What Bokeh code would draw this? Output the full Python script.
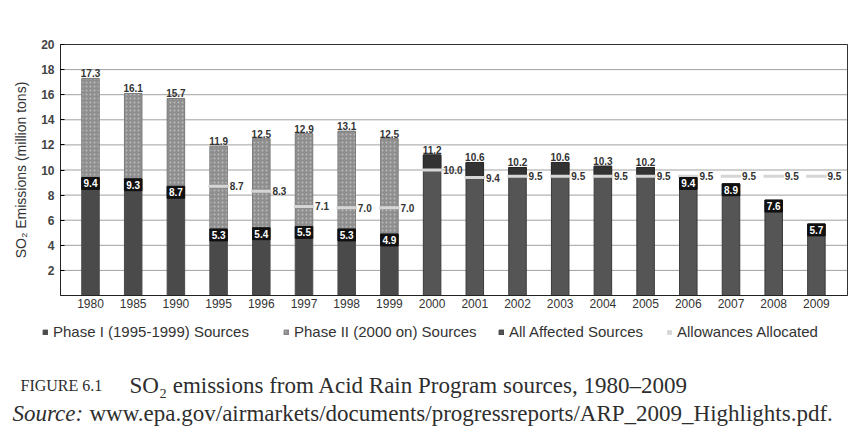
from bokeh.plotting import figure
from bokeh.models import (ColumnDataSource, Legend, LegendItem, Label, FixedTicker,
                          Range1d, LinearAxis)
from bokeh.core.properties import value
from bokeh.transform import dodge
from bokeh.embed import file_html
from bokeh.resources import INLINE

# ---------------- data ----------------
years = ["1980", "1985", "1990", "1995", "1996", "1997", "1998", "1999", "2000",
         "2001", "2002", "2003", "2004", "2005", "2006", "2007", "2008", "2009"]
totals = [17.3, 16.1, 15.7, 11.9, 12.5, 12.9, 13.1, 12.5, 11.2,
          10.6, 10.2, 10.6, 10.3, 10.2, 9.4, 8.9, 7.6, 5.7]
phase1_years = ["1980", "1985", "1990", "1995", "1996", "1997", "1998", "1999"]
phase1 = [9.4, 9.3, 8.7, 5.3, 5.4, 5.5, 5.3, 4.9]
allow_years = ["1995", "1996", "1997", "1998", "1999", "2000", "2001", "2002",
               "2003", "2004", "2005", "2006", "2007", "2008", "2009"]
allowances = [8.7, 8.3, 7.1, 7.0, 7.0, 10.0, 9.4, 9.5, 9.5, 9.5, 9.5, 9.5, 9.5, 9.5, 9.5]
y_ticks = [2, 4, 6, 8, 10, 12, 14, 16, 18, 20]
legend_labels = ["Phase I (1995-1999) Sources", "Phase II (2000 on) Sources",
                 "All Affected Sources", "Allowances Allocated"]

FONT = "Liberation Sans"
SERIF = "Liberation Serif"

# ---------------- layout geometry (pixels of the 864x438 page) ----------------
CW, CH = 864, 438
FR_L, FR_R, FR_T, FR_B = 60, 847, 44, 295      # chart frame box
FIRST_BAR_PX, BAR_STEP_PX = 90, 42.7            # slot centre and spacing
Y_MAX = 20
py_per = (FR_B - FR_T) / Y_MAX
x_start = -FIRST_BAR_PX / BAR_STEP_PX
x_end = x_start + CW / BAR_STEP_PX
y_end = FR_B / py_per
y_start = -(CH - FR_B) / py_per
x_left = x_start + FR_L / BAR_STEP_PX
x_right = x_start + FR_R / BAR_STEP_PX

pos = {y: i for i, y in enumerate(years)}
total_of = dict(zip(years, totals))
allow_of = dict(zip(allow_years, allowances))
n_pre = len(phase1_years)

pre = ColumnDataSource(dict(x=[pos[y] for y in phase1_years], p1=phase1,
                            tot=[total_of[y] for y in phase1_years],
                            p1lab=[f"{v:.1f}" for v in phase1],
                            totlab=[f"{total_of[y]:.1f}" for y in phase1_years]))
post_years = years[n_pre:]
post = ColumnDataSource(dict(x=[pos[y] for y in post_years],
                             tot=[total_of[y] for y in post_years]))
exc_years = [y for y in post_years if total_of[y] > allow_of[y]]
exc = ColumnDataSource(dict(x=[pos[y] for y in exc_years],
                            lo=[allow_of[y] for y in exc_years],
                            hi=[total_of[y] for y in exc_years],
                            lab=[f"{total_of[y]:.1f}" for y in exc_years]))
inn_years = [y for y in post_years if total_of[y] <= allow_of[y]]
inn = ColumnDataSource(dict(x=[pos[y] for y in inn_years],
                            tot=[total_of[y] for y in inn_years],
                            lab=[f"{total_of[y]:.1f}" for y in inn_years]))
alw = ColumnDataSource(dict(x=[pos[y] for y in allow_years], a=allowances,
                            lab=[f"{v:.1f}" for v in allowances]))

p = figure(width=CW, height=CH, output_backend="svg", toolbar_location=None,
           x_range=Range1d(x_start, x_end), y_range=Range1d(y_start, y_end),
           x_axis_type=None, y_axis_type=None, min_border=0,
           min_border_left=0, min_border_right=0, min_border_top=0, min_border_bottom=0)
p.outline_line_color = None
p.xgrid.grid_line_color = None
p.ygrid.grid_line_color = None
p.background_fill_color = "#ffffff"
p.border_fill_color = "#ffffff"

# horizontal grid lines at the tick values, inside the chart box
p.segment(x0=x_left, x1=x_right, y0="y", y1="y", source=ColumnDataSource(dict(y=y_ticks)),
          line_color="#a0a0a0", line_width=1)

# axes
yax = LinearAxis(ticker=FixedTicker(ticks=y_ticks), fixed_location=x_left, bounds=(0, Y_MAX))
yax.axis_label = "SO\u2082 Emissions (million tons)"
yax.axis_label_text_font = FONT
yax.axis_label_text_font_size = "14px"
yax.axis_label_text_font_style = "normal"
yax.axis_label_text_color = "#333333"
yax.axis_label_standoff = 9
yax.major_label_text_font = FONT
yax.major_label_text_font_size = "12px"
yax.major_label_text_font_style = "bold"
yax.major_label_text_color = "#444444"
yax.major_tick_out = 0
yax.major_tick_in = 4
yax.minor_tick_line_color = None
yax.axis_line_color = "#222222"
yax.major_label_standoff = 6
p.add_layout(yax, "left")

xax = LinearAxis(ticker=FixedTicker(ticks=list(range(len(years)))), fixed_location=0,
                 bounds=(x_left, x_right),
                 major_label_overrides={i: y for i, y in enumerate(years)})
xax.major_label_text_font = FONT
xax.major_label_text_font_size = "12px"
xax.major_label_text_color = "#333333"
xax.major_tick_line_color = None
xax.major_tick_out = 0
xax.major_tick_in = 0
xax.minor_tick_line_color = None
xax.axis_line_color = "#222222"
xax.major_label_standoff = 3
p.add_layout(xax, "below")

W = 0.41
DARK = "#4a4a4a"
# Phase I sources (dark)
r_p1 = p.vbar(x="x", top="p1", bottom=0, width=W, source=pre, fill_color=DARK, line_color=DARK)
# Phase II sources (speckled mid-gray)
r_p2 = p.vbar(x="x", top="tot", bottom="p1", width=W, source=pre,
              fill_color="#8e8e8e", line_color="#7a7a7a",
              hatch_pattern=".", hatch_color="#c4c4c4", hatch_scale=4, hatch_alpha=0.8)
# All affected sources
r_all = p.vbar(x="x", top="tot", bottom=0, width=W, source=post,
               fill_color="#555555", line_color="#3a3a3a")
# portion above allowances (darker band)
p.vbar(x="x", top="hi", bottom="lo", width=W, source=exc, fill_color="#333333", line_color="#2a2a2a")

# allowances allocated markers
r_alw = p.rect(x="x", y="a", width=0.48, height=3, height_units="screen", source=alw,
               fill_color="#d6d6d6", line_color=None)
p.text(x=dodge("x", 0.26), y="a", text="lab", source=alw,
       text_font=value(FONT), text_font_size="10px", text_font_style="bold",
       text_color="#333333", text_align="left", text_baseline="middle")

# Phase I label boxes
p.vbar(x="x", top="p1", bottom=dodge("p1", -0.95), width=W, source=pre,
       fill_color="#111111", line_color="#111111")
p.text(x="x", y=dodge("p1", -0.47), text="p1lab", source=pre,
       text_font=value(FONT), text_font_size="10px", text_font_style="bold",
       text_color="#ffffff", text_align="center", text_baseline="middle")

# totals above bars
p.text(x="x", y="tot", text="totlab", source=pre,
       text_font=value(FONT), text_font_size="10px", text_font_style="bold",
       text_color="#333333", text_align="center", text_baseline="bottom", y_offset=-1)
p.text(x="x", y="hi", text="lab", source=exc,
       text_font=value(FONT), text_font_size="10px", text_font_style="bold",
       text_color="#333333", text_align="center", text_baseline="bottom", y_offset=-1)
# totals inside bars (2006-2009)
p.vbar(x="x", top="tot", bottom=dodge("tot", -0.95), width=W, source=inn,
       fill_color="#111111", line_color="#111111")
p.text(x="x", y=dodge("tot", -0.47), text="lab", source=inn,
       text_font=value(FONT), text_font_size="10px", text_font_style="bold",
       text_color="#ffffff", text_align="center", text_baseline="middle")

# chart box outline
p.quad(left=x_left, right=x_right, bottom=0, top=Y_MAX, fill_color=None,
       line_color="#333333", line_width=1)

# ---------------- legend (one entry each, placed in a row) ----------------
leg_x = [42, 283, 498, 666]
for lab, rend, lx in zip(legend_labels, [r_p1, r_p2, r_all, r_alw], leg_x):
    lg = Legend(items=[LegendItem(label=lab, renderers=[rend])], location=(lx, CH - 340))
    lg.label_text_font = FONT
    lg.label_text_font_size = "15px"
    lg.label_text_color = "#333333"
    lg.label_height = 14
    lg.glyph_width = 6
    lg.glyph_height = 6
    lg.label_standoff = 5
    lg.border_line_color = None
    lg.background_fill_alpha = 0
    lg.padding = 0
    lg.margin = 0
    p.add_layout(lg)

# ---------------- caption ----------------
cap = dict(x_units="screen", y_units="screen", text_font=SERIF, text_color="#2e2e2e",
           text_baseline="alphabetic")
p.add_layout(Label(x=20, y=CH - 385, text="FIGURE 6.1", text_font_size="16px", **cap))
p.add_layout(Label(x=129, y=CH - 385,
                   text="SO\u2082 emissions from Acid Rain Program sources, 1980\u20132009",
                   text_font_size="23px", **cap))
p.add_layout(Label(x=12, y=CH - 413, text="Source:", text_font_size="23px",
                   text_font_style="italic", **cap))
p.add_layout(Label(x=89, y=CH - 413,
                   text="www.epa.gov/airmarkets/documents/progressreports/ARP_2009_Highlights.pdf.",
                   text_font_size="23px", **cap))

open("out.html", "w").write(file_html(p, INLINE))
